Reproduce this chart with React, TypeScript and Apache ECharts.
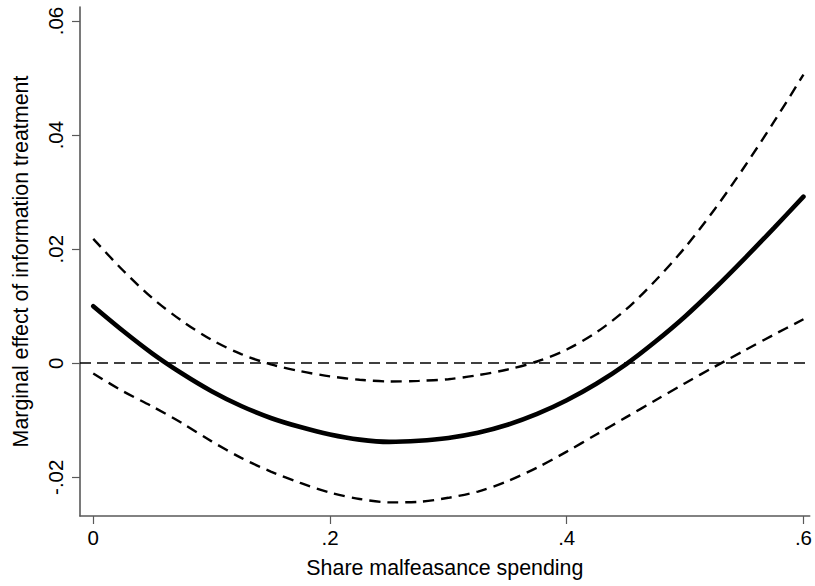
import React, { useEffect, useRef } from "react";
import * as echarts from "echarts";

// Share of malfeasance spending (x) at which the marginal effect is evaluated
const shareX = [
  0, 0.025, 0.05, 0.075, 0.1, 0.125, 0.15, 0.175, 0.2, 0.225, 0.25, 0.275, 0.3,
  0.325, 0.35, 0.375, 0.4, 0.425, 0.45, 0.475, 0.5, 0.525, 0.55, 0.575, 0.6,
];

// Point estimate of the marginal effect of the information treatment
const effect = [
  0.01, 0.0057, 0.0017, -0.0018, -0.0049, -0.0075, -0.0096, -0.0112, -0.0125,
  -0.0134, -0.0138, -0.0136, -0.0131, -0.0122, -0.0108, -0.0089, -0.0065,
  -0.0036, -0.0002, 0.0038, 0.0082, 0.0131, 0.0183, 0.0237, 0.0292,
];

// Upper confidence bound
const upperCI = [
  0.0218, 0.0163, 0.0114, 0.0074, 0.0041, 0.0016, -0.0002, -0.0014, -0.0023,
  -0.0029, -0.0032, -0.0031, -0.0028, -0.0021, -0.0011, 0.0003, 0.0024, 0.0054,
  0.0094, 0.0145, 0.0203, 0.027, 0.0344, 0.0423, 0.0506,
];

// Lower confidence bound
const lowerCI = [
  -0.0018, -0.0049, -0.0076, -0.0105, -0.0137, -0.0166, -0.019, -0.021, -0.0227,
  -0.0238, -0.0244, -0.0243, -0.0236, -0.0225, -0.0207, -0.0183, -0.0155,
  -0.0125, -0.0095, -0.0065, -0.0035, -0.0006, 0.0022, 0.005, 0.0077,
];

const xTickValues = [0, 0.2, 0.4, 0.6];
const xTickLabels = ["0", ".2", ".4", ".6"];
const yTickValues = [-0.02, 0, 0.02, 0.04, 0.06];
const yTickLabels = ["-.02", "0", ".02", ".04", ".06"];

const FONT = "'Liberation Sans', Arial, Helvetica, sans-serif";
const AXIS_GRAY = "#595959";

function labelFor(values: number[], labels: string[], v: number): string {
  for (let i = 0; i < values.length; i++) {
    if (Math.abs(values[i] - v) < 1e-9) return labels[i];
  }
  return "";
}

function zip(xs: number[], ys: number[]): number[][] {
  return xs.map((x, i) => [x, ys[i]]);
}

export default function App() {
  const ref = useRef<HTMLDivElement>(null);

  useEffect(() => {
    if (!ref.current) return;
    const chart = echarts.init(ref.current, undefined, { renderer: "svg" });

    const ciStyle = {
      color: "#000",
      width: 2.4,
      type: [11, 7] as number[],
      cap: "butt" as const,
    };

    chart.setOption({
      animation: false,
      backgroundColor: "#fff",
      textStyle: { fontFamily: FONT },
      grid: { left: 80, right: 2, top: 7, bottom: 70 },
      xAxis: {
        type: "value",
        min: -0.0112,
        max: 0.6053,
        name: "Share malfeasance spending",
        nameLocation: "middle",
        nameGap: 41,
        nameTextStyle: { fontSize: 21.4, color: "#000", fontFamily: FONT },
        axisLine: { show: true, onZero: false, lineStyle: { color: AXIS_GRAY, width: 1.6 } },
        axisTick: {
          show: true,
          length: 8,
          customValues: xTickValues,
          lineStyle: { color: AXIS_GRAY, width: 1.2 },
        },
        axisLabel: {
          customValues: xTickValues,
          formatter: (v: number) => labelFor(xTickValues, xTickLabels, v),
          fontSize: 20.5,
          color: "#000",
          margin: 11,
          fontFamily: FONT,
        },
        splitLine: { show: false },
      },
      yAxis: {
        type: "value",
        min: -0.02679,
        max: 0.06246,
        name: "Marginal effect of information treatment",
        nameLocation: "middle",
        nameGap: 49,
        nameRotate: 90,
        nameTextStyle: { fontSize: 21.4, color: "#000", fontFamily: FONT },
        axisLine: { show: true, onZero: false, lineStyle: { color: AXIS_GRAY, width: 1.6 } },
        axisTick: {
          show: true,
          length: 8,
          customValues: yTickValues,
          lineStyle: { color: AXIS_GRAY, width: 1.2 },
        },
        axisLabel: {
          customValues: yTickValues,
          formatter: (v: number) => labelFor(yTickValues, yTickLabels, v),
          rotate: 90,
          fontSize: 20.5,
          color: "#000",
          margin: 14,
          fontFamily: FONT,
        },
        splitLine: { show: false },
      },
      series: [
        {
          name: "Upper bound",
          type: "line",
          data: zip(shareX, upperCI),
          smooth: 0.3,
          showSymbol: false,
          silent: true,
          lineStyle: ciStyle,
          markLine: {
            silent: true,
            symbol: "none",
            label: { show: false },
            lineStyle: { color: "#000", width: 1.6, type: [11, 6] },
            data: [{ yAxis: 0 }],
          },
        },
        {
          name: "Lower bound",
          type: "line",
          data: zip(shareX, lowerCI),
          smooth: 0.3,
          showSymbol: false,
          silent: true,
          lineStyle: ciStyle,
        },
        {
          name: "Marginal effect",
          type: "line",
          data: zip(shareX, effect),
          smooth: 0.3,
          showSymbol: false,
          silent: true,
          lineStyle: { color: "#000", width: 4.6, cap: "round" },
        },
      ],
    });

    return () => chart.dispose();
  }, []);

  return (
    <div
      ref={ref}
      style={{ position: "fixed", left: 0, top: 0, width: 815, height: 586, background: "#fff" }}
    />
  );
}
